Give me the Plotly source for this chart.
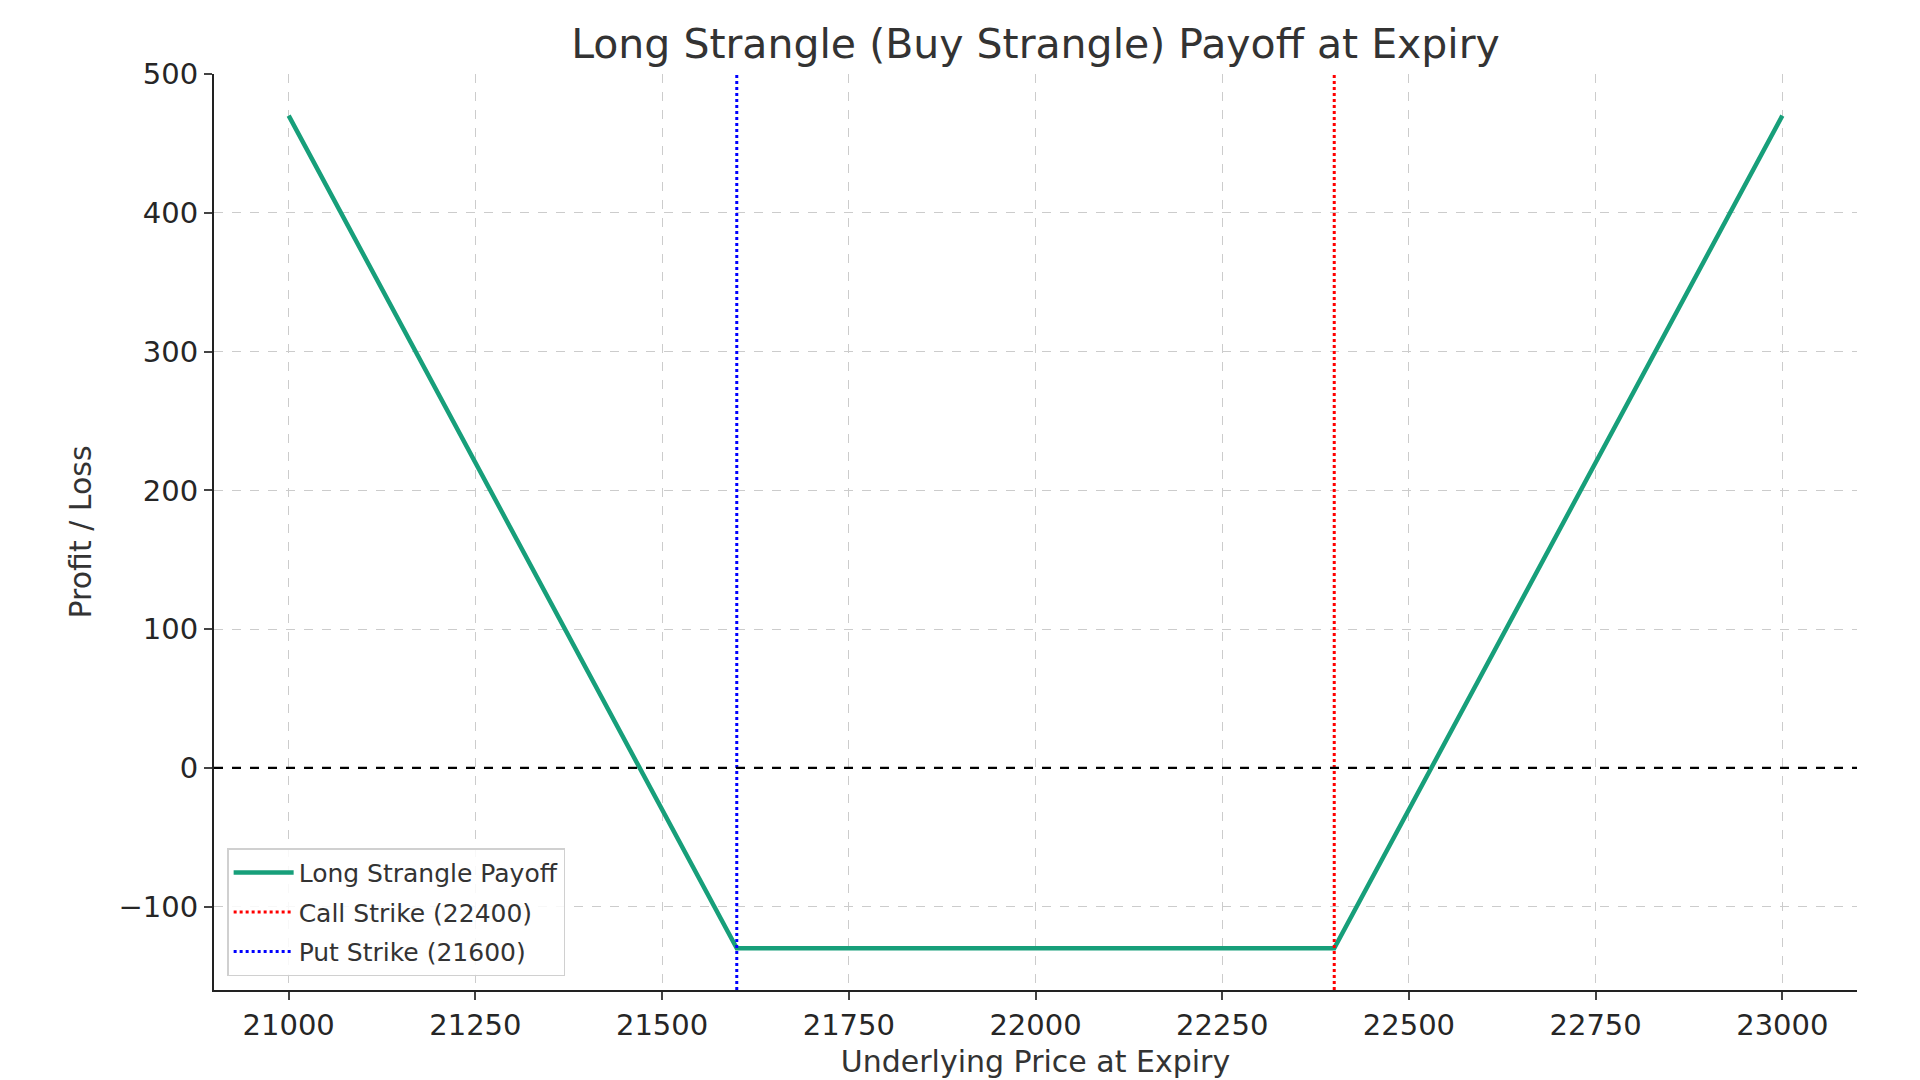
import plotly.graph_objects as go

# payoff data (long strangle, premium 130)
prices = [21000, 21600, 22400, 23000]
payoff = [470, -130, -130, 470]
call_strike = 22400
put_strike = 21600
x_range = [20900, 23100]
y_range = [-160, 500]
x_ticks = [21000, 21250, 21500, 21750, 22000, 22250, 22500, 22750, 23000]
y_ticks = [-100, 0, 100, 200, 300, 400, 500]

green = '#179f7a'
font_name = 'DejaVu Sans'

fig = go.Figure()
fig.add_trace(go.Scatter(x=prices, y=payoff, mode='lines', name='Long Strangle Payoff',
                         legendgroup='a', line=dict(color=green, width=4.5)))
fig.add_trace(go.Scatter(x=[call_strike, call_strike], y=y_range, mode='lines',
                         name='Call Strike (22400)', legendgroup='b',
                         line=dict(color='red', width=3, dash='dot')))
fig.add_trace(go.Scatter(x=[put_strike, put_strike], y=y_range, mode='lines',
                         name='Put Strike (21600)', legendgroup='c',
                         line=dict(color='blue', width=3, dash='dot')))
fig.add_hline(y=0, line=dict(color='black', width=2.2, dash='dash'))

fig.update_layout(
    width=1920, height=1080,
    margin=dict(l=206, r=71, t=66, b=98),
    paper_bgcolor='white', plot_bgcolor='white',
    font=dict(family=font_name, size=29, color='#262626'),
    title=dict(text='Long Strangle (Buy Strangle) Payoff at Expiry',
               x=0.5, xref='paper', y=1 - 36 / 1080, yref='container',
               yanchor='middle', font=dict(size=41, color='#333333')),
    showlegend=True,
    legend=dict(x=0.008, y=0.015, xanchor='left', yanchor='bottom',
                bgcolor='rgba(255,255,255,0.85)', bordercolor='#d0d0d0', borderwidth=1.5,
                font=dict(size=25, color='#333333'), tracegroupgap=4, itemwidth=60),
)
fig.update_xaxes(range=x_range, tickvals=x_ticks, ticktext=[str(t) for t in x_ticks],
                 ticks='outside', ticklen=8, tickwidth=2,
                 showline=True, linecolor='#222222', linewidth=2, zeroline=False,
                 showgrid=True, gridcolor='#cccccc', gridwidth=1, griddash='dash',
                 title=dict(text='Underlying Price at Expiry', standoff=10,
                            font=dict(size=30, color='#333333')))
fig.update_yaxes(range=y_range, tickvals=y_ticks,
                 ticktext=[str(t).replace('-', '\u2212') for t in y_ticks],
                 ticks='outside', ticklen=8, tickwidth=2,
                 showline=True, linecolor='#222222', linewidth=2, zeroline=False,
                 showgrid=True, gridcolor='#cccccc', gridwidth=1, griddash='dash',
                 title=dict(text='Profit / Loss', standoff=18,
                            font=dict(size=30, color='#333333')))

fig.write_html("out.html")
